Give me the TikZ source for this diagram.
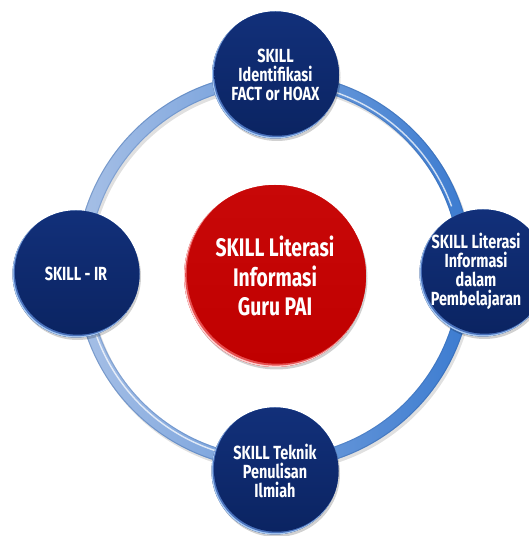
\documentclass[tikz,border=0pt]{standalone}
\usepackage{fontspec}
\usetikzlibrary{shadows}
\newfontfamily\skf{Fira Sans}[FakeStretch=0.76]
\definecolor{navy}{HTML}{0B2462}
\definecolor{navytop}{HTML}{12307A}
\definecolor{navyhl}{HTML}{A9CBF5}
\definecolor{navymid}{HTML}{4A72BC}
\definecolor{redbase}{HTML}{C00000}
\definecolor{redtop}{HTML}{C80808}
\definecolor{redhl}{HTML}{FFD0D0}
\definecolor{redmid}{HTML}{E65050}
\definecolor{ringL}{HTML}{A7C0E6}
\definecolor{ringR}{HTML}{3B7BD0}
\definecolor{ringD}{HTML}{2E5C9E}
\tikzset{
  skill/.style={circle, minimum size=127pt, inner sep=0pt, fill=navy, text=white,
    align=center, font=\skf\bfseries\fontsize{19}{19.2}\selectfont,
    drop shadow={shadow xshift=1.5pt, shadow yshift=-2.5pt, opacity=0.18, fill=black},
    path picture={
      \fill[navyhl] (path picture bounding box.center) circle (63.5);
      \fill[navymid] ([shift={(0.7,0.9)}]path picture bounding box.center) circle (63.1);
      \shade[top color=navytop, bottom color=navy] ([shift={(1.7,2.1)}]path picture bounding box.center) circle (62.8);
    }},
  skilltext/.style={text=white, align=center, inner sep=0pt,
    font=\skf\bfseries\fontsize{19}{19.2}\selectfont},
  core/.style={circle, minimum size=182pt, inner sep=0pt, fill=redbase, text=white,
    align=center, font=\skf\bfseries\fontsize{25.4}{29.3}\selectfont,
    drop shadow={shadow xshift=1.5pt, shadow yshift=-2.5pt, opacity=0.18, fill=black},
    path picture={
      \fill[redhl] (path picture bounding box.center) circle (91);
      \fill[redmid] ([shift={(0.8,1.0)}]path picture bounding box.center) circle (90.6);
      \shade[top color=redtop, bottom color=redbase] ([shift={(2.0,2.5)}]path picture bounding box.center) circle (90.2);
    }},
}
\begin{document}
\begin{tikzpicture}[x=1pt,y=1pt]
\useasboundingbox (0,0) rectangle (529,536);
\clip (0,0) rectangle (529,536);
\fill[white] (0,0) rectangle (529,536);
\coordinate (rc) at (274,265);
% ring with shadow and tube highlights
\draw[black, opacity=0.12, line width=13] ([shift={(2,-3)}]rc) circle (192);
\shade[even odd rule, left color=ringL, right color=ringR] (rc) circle (198.5) (rc) circle (185.5);
\draw[ringD, opacity=0.35, line width=1] (rc) circle (198);
\draw[ringD, opacity=0.25, line width=1] (rc) circle (186);
\draw[white, opacity=0.75, line width=1.4] ([shift={(200:189)}]rc) arc (200:260:189);
\draw[white, opacity=0.75, line width=1.4] ([shift={(20:189)}]rc) arc (20:75:189);
% nodes
\node[core] (center) at (275,260) {SKILL Literasi\\Informasi\\Guru PAI};
\node[skill] (top) at (275.5,461) {SKILL\\Identifikasi\\FACT or HOAX};
\node[skill] (left) at (76,262) {SKILL - IR};
\node[skill] (right) at (483,263) {};
\node[skilltext] (righttext) at (476,264.5) {SKILL Literasi\\Informasi\\dalam\\Pembelajaran};
\node[skill] (bottom) at (275,65) {SKILL Teknik\\Penulisan\\Ilmiah};
\end{tikzpicture}
\end{document}
